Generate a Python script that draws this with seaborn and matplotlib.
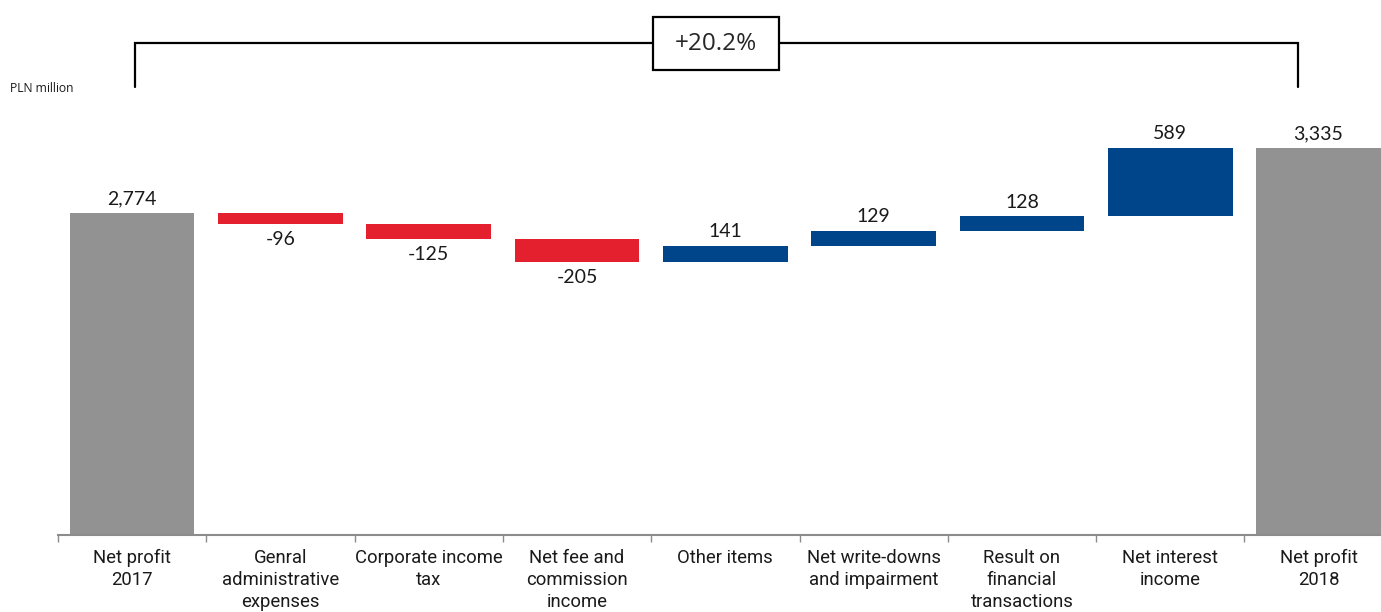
import numpy as np
import pandas as pd
import matplotlib
matplotlib.use("Agg")
import matplotlib.pyplot as plt
from matplotlib.patches import Rectangle
import seaborn as sns

categories = ["Net profit\n2017", "Genral\nadministrative\nexpenses", "Corporate income\ntax",
              "Net fee and\ncommission\nincome", "Other items", "Net write-downs\nand impairment",
              "Result on\nfinancial\ntransactions", "Net interest\nincome", "Net profit\n2018"]
changes = [2774, -96, -125, -205, 141, 129, 128, 589, 3335]
kinds = ["total", "delta", "delta", "delta", "delta", "delta", "delta", "delta", "total"]
value_labels = ["2,774", "-96", "-125", "-205", "141", "129", "128", "589", "3,335"]
growth_label = "+20.2%"
unit_label = "PLN million"

GRAY, RED, BLUE = "#929292", "#E4202E", "#00458A"

# waterfall geometry
bottoms, heights, colors = [], [], []
running = 0
for v, k in zip(changes, kinds):
    if k == "total":
        bottoms.append(0); heights.append(v); colors.append(GRAY); running = v
    else:
        new = running + v
        bottoms.append(min(running, new)); heights.append(abs(v))
        colors.append(RED if v < 0 else BLUE)
        running = new

df = pd.DataFrame({"cat": categories, "h": heights, "b": bottoms})

sns.set_theme(style="white")
plt.rcParams["font.family"] = ["Roboto", "DejaVu Sans"]

W, H = 1381, 612
fig = plt.figure(figsize=(W / 100, H / 100), dpi=100)
ax = fig.add_axes([58 / W, 77 / H, (W - 58) / W, (H - 77 - 5) / H])

sns.barplot(data=df, x="cat", y="h", color=GRAY, width=0.84,
            bottom=df["b"].values, saturation=1, ax=ax)
for patch, c in zip(ax.patches, colors):
    patch.set_facecolor(c)
    patch.set_edgecolor("none")

px_per_unit = 0.1161
ymax = (H - 77 - 5) / px_per_unit

for i, (b, h, v, lab) in enumerate(zip(bottoms, heights, changes, value_labels)):
    if v < 0:
        ax.annotate(lab, (i, b), xytext=(0, -5), textcoords="offset points",
                    ha="center", va="top", fontsize=14, family=["Lato", "DejaVu Sans"], color="#1a1a1a")
    else:
        ax.annotate(lab, (i, b + h), xytext=(0, 4), textcoords="offset points",
                    ha="center", va="bottom", fontsize=14, family=["Lato", "DejaVu Sans"], color="#1a1a1a")

# axes styling
for s in ["top", "right", "left"]:
    ax.spines[s].set_visible(False)
ax.spines["bottom"].set_color("#8c8c8c")
ax.spines["bottom"].set_linewidth(1.5)
ax.set_yticks([])
ax.set_xlabel(""); ax.set_ylabel("")
ax.set_xticks(range(len(categories)))
ax.set_xticklabels(categories, fontsize=13.3, linespacing=1.3, color="#1a1a1a")
ax.tick_params(axis="x", which="major", length=0, pad=10)
ax.set_xticks(np.arange(-0.5, len(categories) - 1, 1.0), minor=True)
ax.tick_params(axis="x", which="minor", length=5, width=1, color="#8c8c8c", direction="out", bottom=True)
ax.set_ylim(0, ymax)
ax.set_xlim(-0.5, -0.5 + (W - 58) / 148.3)

# growth bracket
y_top = (535 - 43) / px_per_unit
y_end = (535 - 87) / px_per_unit
xl, xr = 0.02, 7.86
ax.plot([xl, xl, xr, xr], [y_end, y_top, y_top, y_end], color="black", lw=1.6,
        clip_on=False, solid_joinstyle="miter", zorder=3)
bx0, bx1 = 3.51, 4.36
by0, by1 = (535 - 70) / px_per_unit, (535 - 17) / px_per_unit
ax.add_patch(Rectangle((bx0, by0), bx1 - bx0, by1 - by0, fc="white", ec="black",
                       lw=1.6, zorder=4, clip_on=False))
ax.text((bx0 + bx1) / 2, (by0 + by1) / 2, growth_label, ha="center", va="center", fontsize=17.5,
        family=["Open Sans", "DejaVu Sans"], zorder=5)

fig.text(10 / W, 1 - 88 / H, unit_label, fontsize=8.7, va="center", ha="left",
         family=["Open Sans", "DejaVu Sans"], color="#1a1a1a")

fig.savefig("out.png", dpi=100)
